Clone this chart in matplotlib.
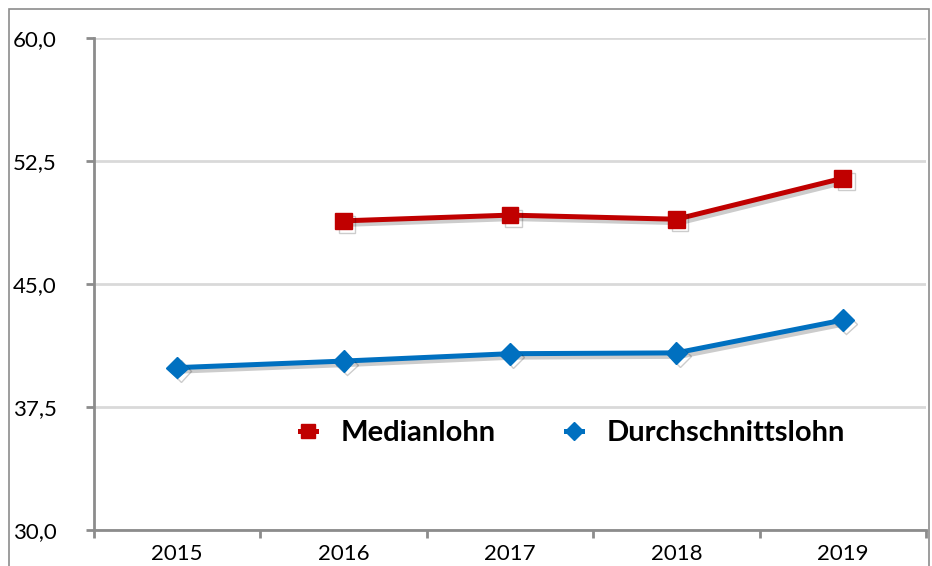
import matplotlib.pyplot as plt
import matplotlib.patheffects as pe
from matplotlib.patches import Rectangle

plt.rcParams['font.family'] = ['Lato', 'DejaVu Sans']

years = ['2015', '2016', '2017', '2018', '2019']
median_years = [1, 2, 3, 4]
median = [48.85, 49.2, 48.95, 51.45]
mean_years = [0, 1, 2, 3, 4]
mean = [39.9, 40.3, 40.75, 40.8, 42.8]
y_ticks = [30.0, 37.5, 45.0, 52.5, 60.0]
y_labels = ['30,0', '37,5', '45,0', '52,5', '60,0']

red = '#C00000'
blue = '#0070C0'
grey = '#8C8C8C'

fig = plt.figure(figsize=(9.32, 5.66), dpi=100)
ax = fig.add_axes([94 / 932, 36 / 566, 832 / 932, 492 / 566])

# outer frame of the chart
fig.patches.append(Rectangle((9 / 932, -0.05), 920 / 932, 1.05 - 9 / 566,
                             transform=fig.transFigure, fill=False,
                             edgecolor='#8C8C8C', linewidth=1.2))

shadow = [pe.SimpleLineShadow(offset=(2.5, -2.5), alpha=0.2, shadow_color='k'),
          pe.Normal()]

ax.plot(median_years, median, color=red, linewidth=3.6, marker='s',
        markersize=12, label='Medianlohn', zorder=3,
        path_effects=shadow)
ax.plot(mean_years, mean, color=blue, linewidth=3.6, marker='D',
        markersize=11, label='Durchschnittslohn', zorder=3,
        path_effects=shadow)

ax.set_xlim(-0.5, 4.5)
ax.set_ylim(30, 60)

ax.set_yticks(y_ticks)
ax.set_yticklabels(y_labels, ha='left', fontsize=16)
ax.tick_params(axis='y', length=6, width=2, color=grey, pad=52.5)

# category ticks sit between the years
ax.set_xticks([i - 0.5 for i in range(6)])
ax.set_xticklabels([])
ax.set_xticks(range(5), minor=True)
ax.set_xticklabels(years, minor=True, fontsize=16)
ax.tick_params(axis='x', which='major', length=6, width=2, color=grey)
ax.tick_params(axis='x', which='minor', length=0, pad=10)

ax.grid(axis='y', color='#D9D9D9', linewidth=2)
ax.set_axisbelow(True)

for side in ['top', 'right']:
    ax.spines[side].set_visible(False)
for side in ['left', 'bottom']:
    ax.spines[side].set_color(grey)
    ax.spines[side].set_linewidth(2)

leg = ax.legend(loc='center', bbox_to_anchor=(0.575, 0.197), ncol=2,
                frameon=False, handlelength=0.55, columnspacing=2.4,
                handletextpad=0.85, markerscale=0.85,
                prop={'weight': 'bold', 'size': 21})
for line in leg.get_lines():
    line.set_path_effects([])

fig.savefig('out.png', dpi=100)
